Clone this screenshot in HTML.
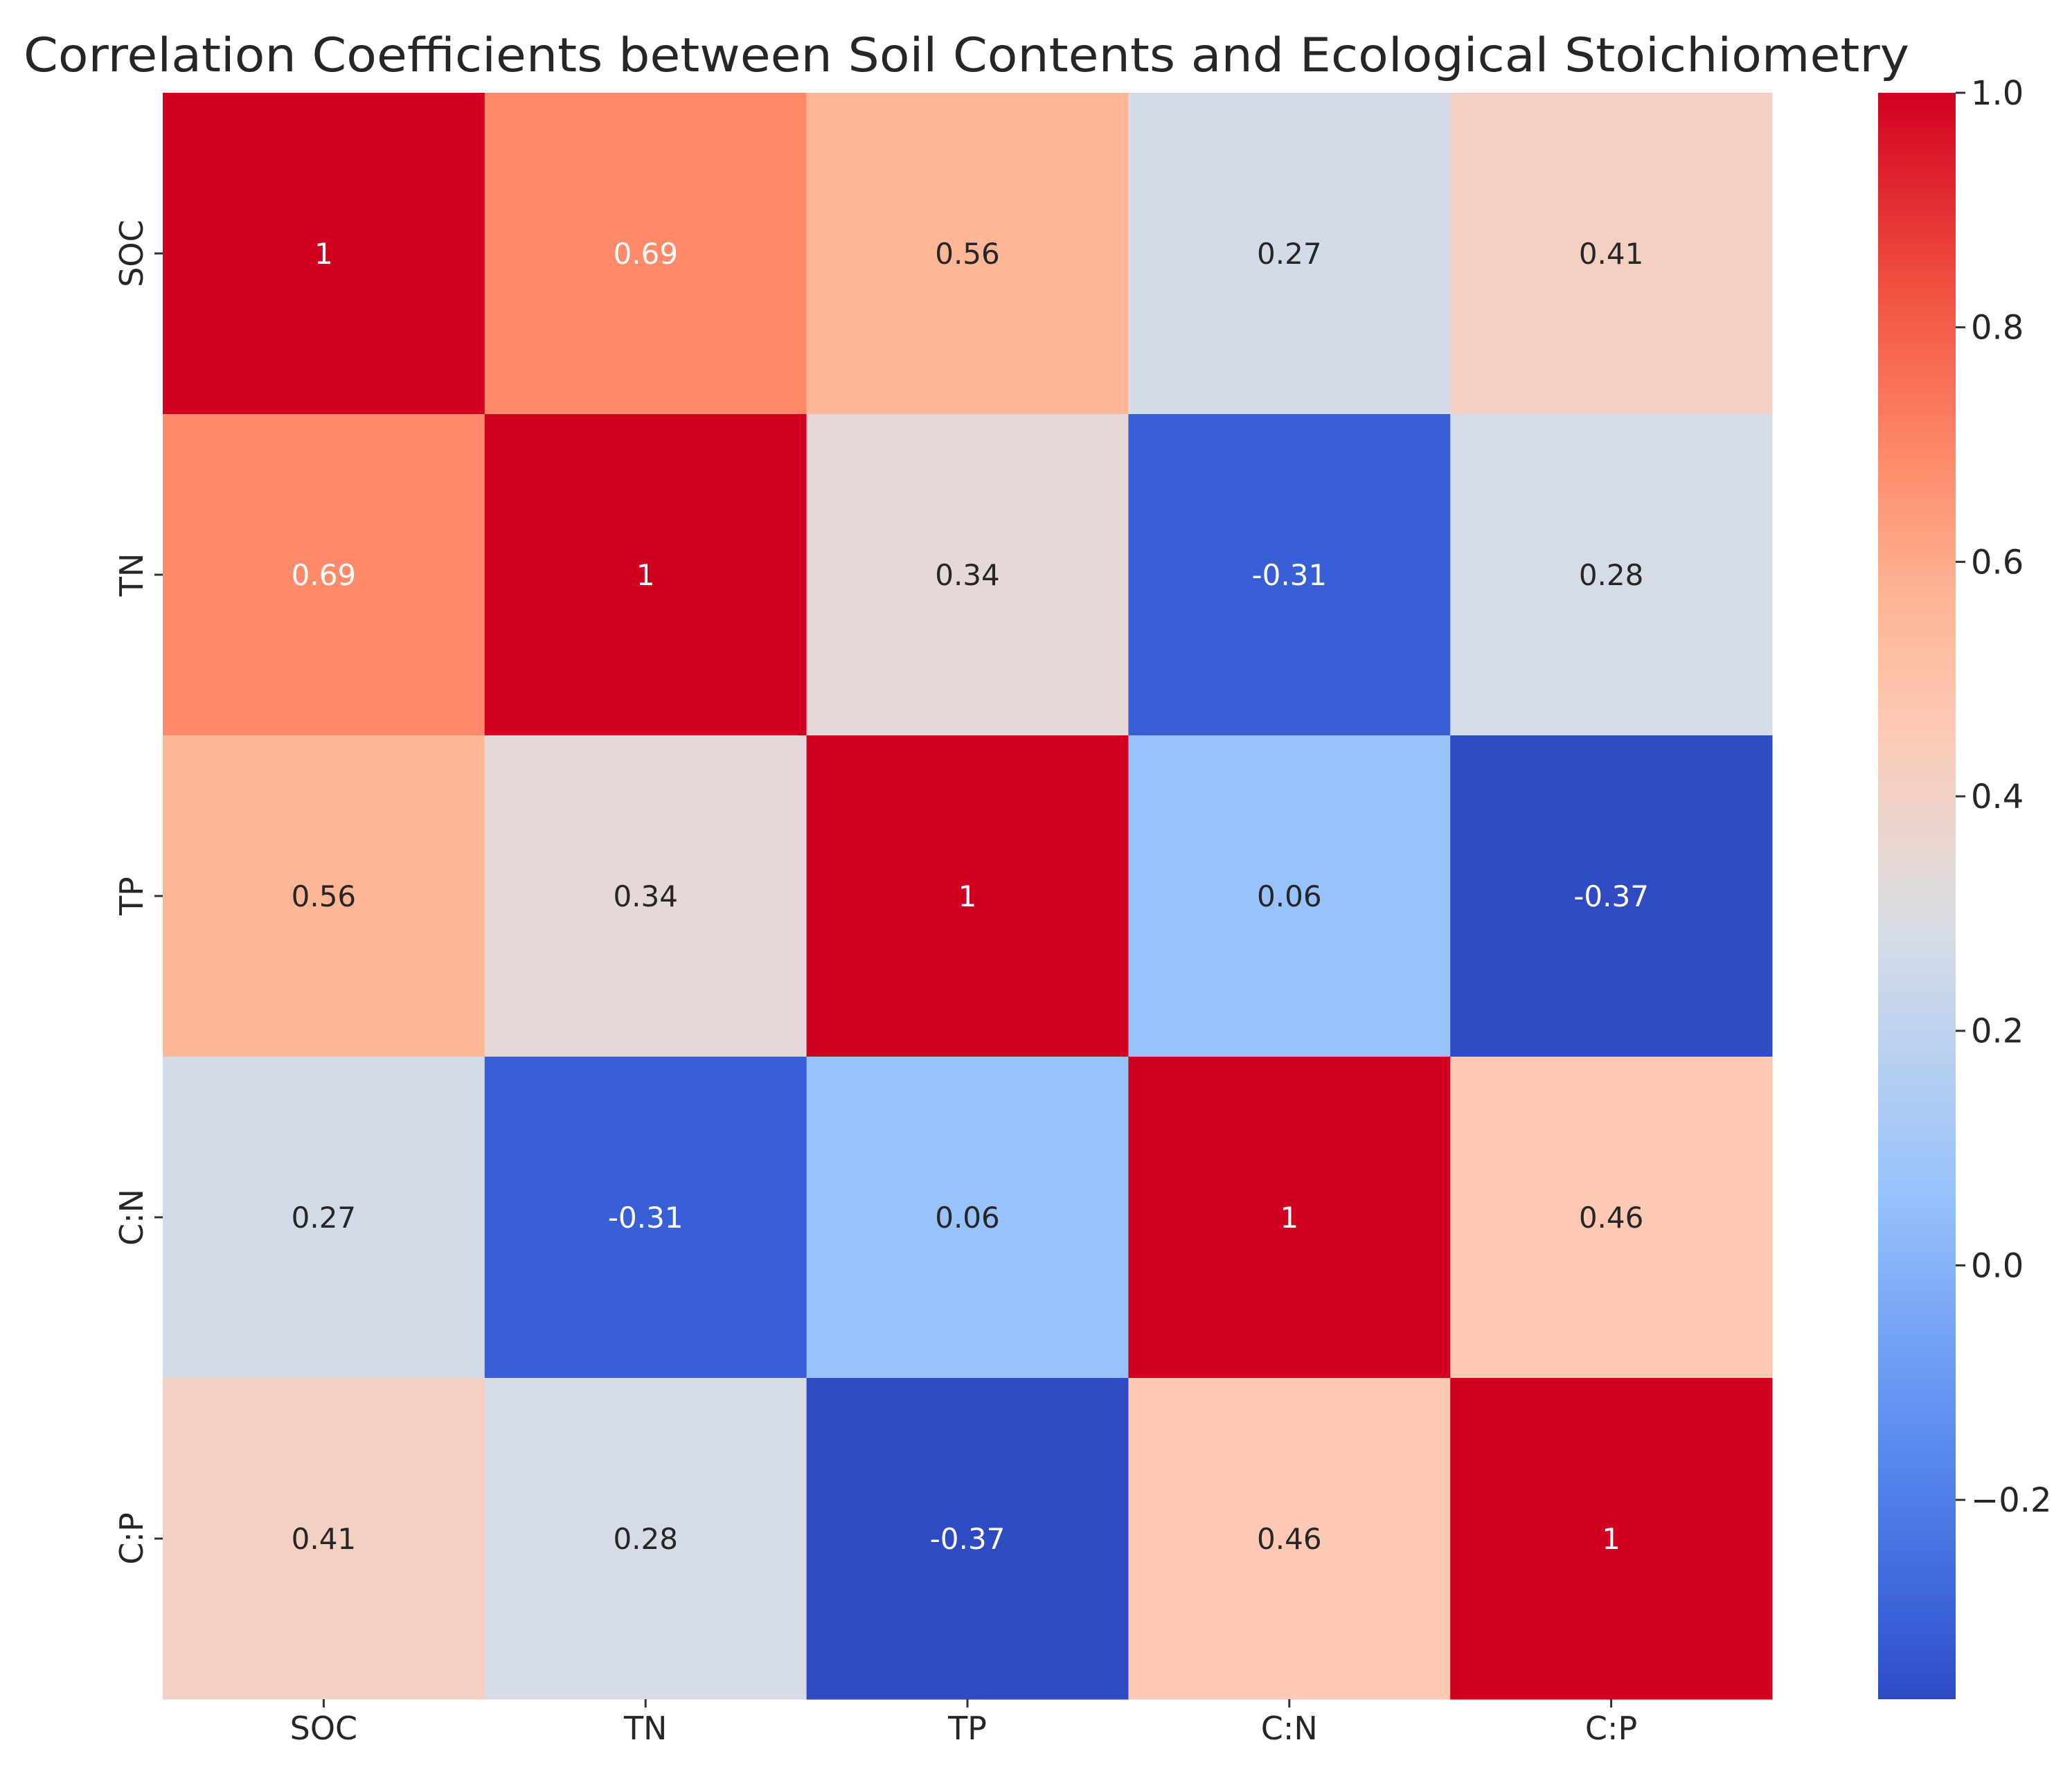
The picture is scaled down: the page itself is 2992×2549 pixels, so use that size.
<!DOCTYPE html>
<html><head><meta charset="utf-8"><style>
html,body{margin:0;padding:0;background:#fff;}
svg{display:block;font-family:"DejaVu Sans","Liberation Sans",sans-serif;}
</style></head><body>
<svg id="chart" width="2992" height="2549" viewBox="0 0 2992 2549" xmlns="http://www.w3.org/2000/svg">
<defs>
<linearGradient id="cbgrad" x1="0" y1="1" x2="0" y2="0">
<stop offset="0" stop-color="#2f4bc4"/><stop offset="0.044" stop-color="#385fd6"/><stop offset="0.16" stop-color="#5b8bf0"/><stop offset="0.314" stop-color="#97c2fc"/><stop offset="0.474" stop-color="#d5dce6"/><stop offset="0.518" stop-color="#e4d9d6"/><stop offset="0.606" stop-color="#fdc9b4"/><stop offset="0.679" stop-color="#fdb797"/><stop offset="0.774" stop-color="#fe8a6a"/><stop offset="0.88" stop-color="#f05040"/><stop offset="1" stop-color="#d10020"/>
</linearGradient>
</defs>
<text x="34" y="103" font-size="68" fill="#262626" textLength="2723" lengthAdjust="spacingAndGlyphs">Correlation Coefficients between Soil Contents and Ecological Stoichiometry</text>
<g id="cells"></g>
<g id="axes"></g>
<rect x="2712" y="134" width="112" height="2320" fill="url(#cbgrad)"/>
<g id="cbticks"></g>
</svg>
<script>
const categories = ["SOC","TN","TP","C:N","C:P"];
const rowSOC = [1,0.69,0.56,0.27,0.41];
const rowTN = [0.69,1,0.34,-0.31,0.28];
const rowTP = [0.56,0.34,1,0.06,-0.37];
const rowCN = [0.27,-0.31,0.06,1,0.46];
const rowCP = [0.41,0.28,-0.37,0.46,1];
const matrix = [rowSOC,rowTN,rowTP,rowCN,rowCP];
const vmin = -0.37, vmax = 1.0;
const cbTicks = [-0.2,0.0,0.2,0.4,0.6,0.8,1.0];

const NS="http://www.w3.org/2000/svg";
const L=235,R=2559,T=134,B=2454;
const cw=(R-L)/categories.length, ch=(B-T)/categories.length;
const xPos=i=>L+i*cw, yPos=i=>T+i*ch;
const cbY=v=>B-(v-vmin)/(vmax-vmin)*(B-T);
const stops=[[0,[47,75,196]],[0.044,[56,95,214]],[0.16,[91,139,240]],[0.314,[151,194,252]],[0.474,[213,220,230]],[0.518,[228,217,214]],[0.606,[253,201,180]],[0.679,[253,183,151]],[0.774,[254,138,106]],[0.88,[240,80,64]],[1,[209,0,32]]];
function color(v){const t=Math.max(0,Math.min(1,(v-vmin)/(vmax-vmin)));
for(let i=1;i<stops.length;i++){if(t<=stops[i][0]){const a=stops[i-1],b=stops[i];const f=(t-a[0])/(b[0]-a[0]);const c=a[1].map((x,k)=>Math.round(x+(b[1][k]-x)*f));return `rgb(${c.join(',')})`;}}return 'rgb(209,0,32)';}
function mk(tag,attrs,parent){const e=document.createElementNS(NS,tag);for(const k in attrs)e.setAttribute(k,attrs[k]);parent.appendChild(e);return e;}
const cells=document.getElementById('cells'),axes=document.getElementById('axes'),cbg=document.getElementById('cbticks');
matrix.forEach((row,r)=>row.forEach((v,c)=>{
 const rect=mk('rect',{x:xPos(c),y:yPos(r),width:cw+0.5,height:ch+0.5,fill:color(v)},cells);
 
 
 const tx=mk('text',{x:xPos(c)+cw/2,y:yPos(r)+ch/2+15,'font-size':42,'text-anchor':'middle',fill:(v>0.6||v<-0.2)?'#fff':'#262626'},cells);
 
 
 tx.textContent=String(v);
}));
categories.forEach((c,i)=>{
 const cx=xPos(i)+cw/2, cy=yPos(i)+ch/2;
 mk('line',{x1:cx,y1:B,x2:cx,y2:B+12,stroke:'#333','stroke-width':3},axes);
 const xl=mk('text',{x:cx,y:2512,'font-size':46,'text-anchor':'middle',fill:'#262626'},axes);
 
 
 xl.textContent=c;
 mk('line',{x1:L-12,y1:cy,x2:L,y2:cy,stroke:'#333','stroke-width':3},axes);
 const yl=mk('text',{x:0,y:0,'font-size':46,'text-anchor':'middle',fill:'#262626',transform:`translate(206,${cy}) rotate(-90)`},axes);
 
 
 yl.textContent=c;
});
cbTicks.forEach(v=>{
 const y=cbY(v);
 mk('line',{x1:2824,y1:y,x2:2838,y2:y,stroke:'#333','stroke-width':3},cbg);
 const t=mk('text',{x:2846,y:y+17,'font-size':48,fill:'#262626'},cbg);
 
 
 t.textContent=(v<0?'\u2212':'')+Math.abs(v).toFixed(1);
});
</script>
</body></html>
